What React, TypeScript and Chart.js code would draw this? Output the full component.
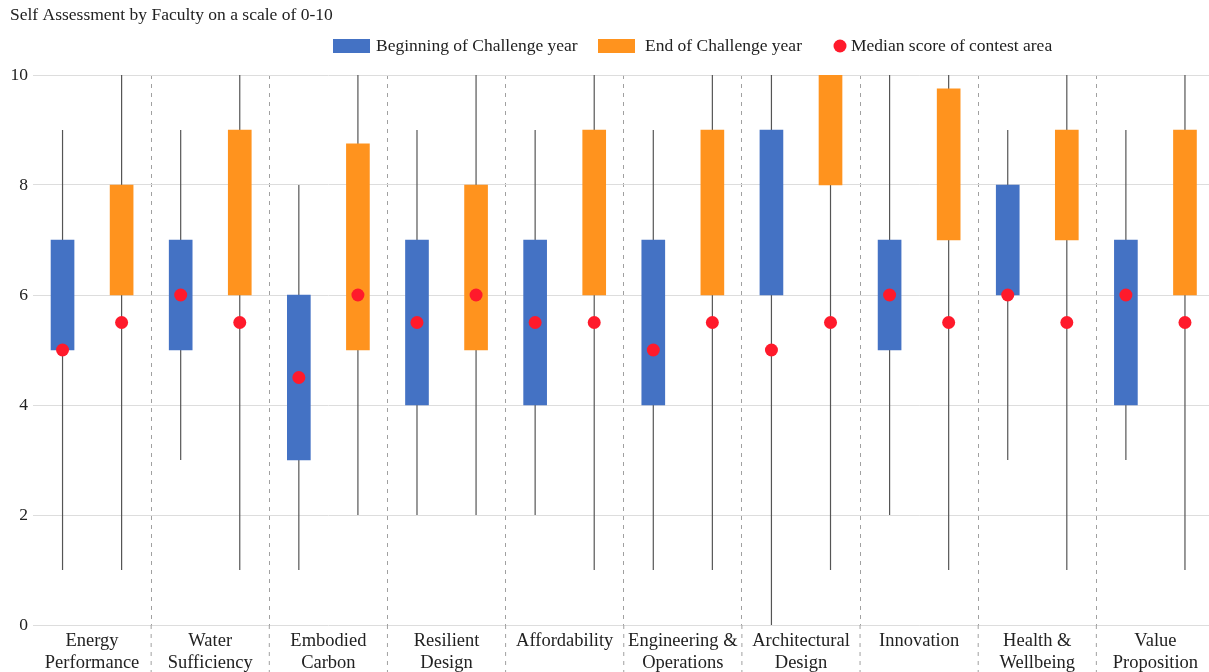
import React, { useEffect, useRef } from 'react';
import { Chart, registerables } from 'chart.js';

Chart.register(...registerables);

const FONT = "'Liberation Serif', 'Times New Roman', serif";

const titleText = 'Self Assessment by Faculty on a scale of 0-10';

const categories: string[][] = [
  ['Energy', 'Performance'],
  ['Water', 'Sufficiency'],
  ['Embodied', 'Carbon'],
  ['Resilient', 'Design'],
  ['Affordability'],
  ['Engineering &', 'Operations'],
  ['Architectural', 'Design'],
  ['Innovation'],
  ['Health &', 'Wellbeing'],
  ['Value', 'Proposition'],
];

const seriesLabels = ['Beginning of Challenge year', 'End of Challenge year', 'Median score of contest area'];

// Beginning of Challenge year
const beginLow = [5, 5, 3, 4, 4, 4, 6, 5, 6, 4];
const beginHigh = [7, 7, 6, 7, 7, 7, 9, 7, 8, 7];
const beginMin = [1, 3, 1, 2, 2, 1, 0, 2, 3, 3];
const beginMax = [9, 9, 8, 9, 9, 9, 10, 10, 9, 9];
const beginMedian = [5, 6, 4.5, 5.5, 5.5, 5, 5, 6, 6, 6];

// End of Challenge year
const endLow = [6, 6, 5, 5, 6, 6, 8, 7, 7, 6];
const endHigh = [8, 9, 8.75, 8, 9, 9, 10, 9.75, 9, 9];
const endMin = [1, 1, 2, 2, 1, 1, 1, 1, 1, 1];
const endMax = [10, 10, 10, 10, 10, 10, 10, 10, 10, 10];
const endMedian = [5.5, 5.5, 6, 6, 5.5, 5.5, 5.5, 5.5, 5.5, 5.5];

const yTicks = [0, 2, 4, 6, 8, 10];

const BLUE = '#4472C4';
const ORANGE = '#FF931E';
const RED = '#FF1A2B';
const WHISKER = '#555555';
const TEXT = '#222222';
const SEP = '#a0a0a0';
const FONT_SIZE = 17.5;
const X_FONT_SIZE = 18.5;

const W = 1221;
const H = 672;

// offset of each series inside its category (in category units)
const BEGIN_OFFSET = -0.25;
const END_OFFSET = 0.25;

const boxPoints = (lows: number[], highs: number[], off: number) =>
  lows.map((v, i) => ({ x: i + off, y: [v, highs[i]] }));

const whiskerPoints = (mins: number[], maxs: number[], off: number) =>
  mins.flatMap((v, i) => [
    { x: i + off, y: v },
    { x: i + off, y: maxs[i] },
    { x: i + off, y: null },
  ]);

const medianPoints = (meds: number[], off: number) => meds.map((v, i) => ({ x: i + off, y: v }));

const legendPlugin = {
  id: 'customLegend',
  afterDraw(chart: any) {
    const ctx = chart.ctx;
    ctx.save();
    ctx.font = `${FONT_SIZE}px ${FONT}`;
    ctx.textBaseline = 'middle';
    ctx.textAlign = 'left';
    const cy = 46;
    ctx.fillStyle = BLUE;
    ctx.fillRect(333, cy - 7, 37, 14);
    ctx.fillStyle = TEXT;
    ctx.fillText(seriesLabels[0], 376, cy);
    ctx.fillStyle = ORANGE;
    ctx.fillRect(598, cy - 7, 37, 14);
    ctx.fillStyle = TEXT;
    ctx.fillText(seriesLabels[1], 645, cy);
    ctx.fillStyle = RED;
    ctx.beginPath();
    ctx.arc(840, cy, 6.5, 0, Math.PI * 2);
    ctx.fill();
    ctx.fillStyle = TEXT;
    ctx.fillText(seriesLabels[2], 851, cy);
    ctx.restore();
  },
};

// extends the category separators below the axis, through the label area
const separatorPlugin = {
  id: 'separatorExtension',
  afterDraw(chart: any) {
    const ctx = chart.ctx;
    const xs = chart.scales.x;
    const bottom = chart.chartArea.bottom;
    ctx.save();
    ctx.strokeStyle = SEP;
    ctx.lineWidth = 1;
    ctx.setLineDash([4, 5]);
    for (let i = 1; i < categories.length; i++) {
      const px = (xs.getPixelForValue(i - 1) + xs.getPixelForValue(i)) / 2;
      ctx.beginPath();
      ctx.moveTo(px, bottom);
      ctx.lineTo(px, chart.height);
      ctx.stroke();
    }
    ctx.restore();
  },
};

export default function App() {
  const ref = useRef<HTMLCanvasElement>(null);
  useEffect(() => {
    const gridColor = (c: any) => (c.index === 0 ? 'rgba(0,0,0,0)' : SEP);
    const chart = new Chart(ref.current!, {
      type: 'bar',
      data: {
        labels: categories as any,
        datasets: [
          {
            label: seriesLabels[0],
            data: boxPoints(beginLow, beginHigh, BEGIN_OFFSET) as any,
            xAxisID: 'x2',
            backgroundColor: BLUE,
            grouped: false,
            barThickness: 23,
            maxBarThickness: 23,
            order: 1,
          },
          {
            label: seriesLabels[1],
            data: boxPoints(endLow, endHigh, END_OFFSET) as any,
            xAxisID: 'x2',
            backgroundColor: ORANGE,
            grouped: false,
            barThickness: 23,
            maxBarThickness: 23,
            order: 1,
          },
          {
            type: 'line',
            label: 'Beginning range',
            data: whiskerPoints(beginMin, beginMax, BEGIN_OFFSET),
            xAxisID: 'x2',
            borderColor: WHISKER,
            borderWidth: 1.2,
            pointRadius: 0,
            spanGaps: false,
            order: 2,
          } as any,
          {
            type: 'line',
            label: 'End range',
            data: whiskerPoints(endMin, endMax, END_OFFSET),
            xAxisID: 'x2',
            borderColor: WHISKER,
            borderWidth: 1.2,
            pointRadius: 0,
            spanGaps: false,
            order: 2,
          } as any,
          {
            type: 'scatter',
            label: seriesLabels[2],
            data: [...medianPoints(beginMedian, BEGIN_OFFSET), ...medianPoints(endMedian, END_OFFSET)],
            xAxisID: 'x2',
            backgroundColor: RED,
            borderWidth: 0,
            pointRadius: 6.5,
            order: 0,
          } as any,
        ],
      },
      options: {
        animation: false,
        responsive: false,
        layout: { padding: { left: 10, right: 3, top: 0, bottom: 0 } },
        plugins: {
          legend: { display: false },
          tooltip: { enabled: false },
          title: {
            display: true,
            text: titleText,
            align: 'start',
            color: TEXT,
            font: { family: FONT, size: FONT_SIZE, weight: 'normal' },
            padding: { top: 5, bottom: 49 },
          },
        },
        scales: {
          x: {
            type: 'category',
            offset: true,
            grid: {
              offset: true,
              color: gridColor,
              lineWidth: 1,
              drawTicks: false,
            },
            border: { display: false, dash: [4, 5] },
            ticks: {
              color: TEXT,
              font: { family: FONT, size: X_FONT_SIZE, lineHeight: 1.19 },
              padding: 5,
              maxRotation: 0,
              autoSkip: false,
            },
            afterFit: (axis: any) => {
              axis.height = 47;
            },
          },
          x2: {
            type: 'linear',
            display: false,
            offset: false,
            grid: { offset: false },
            min: -0.5,
            max: 9.5,
          },
          y: {
            min: 0,
            max: 10,
            afterBuildTicks: (axis: any) => {
              axis.ticks = yTicks.map((v) => ({ value: v }));
            },
            afterFit: (axis: any) => {
              axis.width = 23;
            },
            grid: { color: '#dddddd', drawTicks: false, lineWidth: 1 },
            border: { display: false },
            ticks: {
              color: TEXT,
              font: { family: FONT, size: FONT_SIZE },
              padding: 5,
            },
          },
        },
      },
      plugins: [legendPlugin, separatorPlugin],
    });
    return () => chart.destroy();
  }, []);
  return (
    <div style={{ position: 'fixed', left: 0, top: 0, width: '100vw', height: '100vh', overflow: 'hidden' }}>
      <div style={{ position: 'absolute', left: 0, top: 0, width: W, height: H }}>
        <canvas ref={ref} width={W} height={H} style={{ display: 'block', width: W, height: H }} />
      </div>
    </div>
  );
}
